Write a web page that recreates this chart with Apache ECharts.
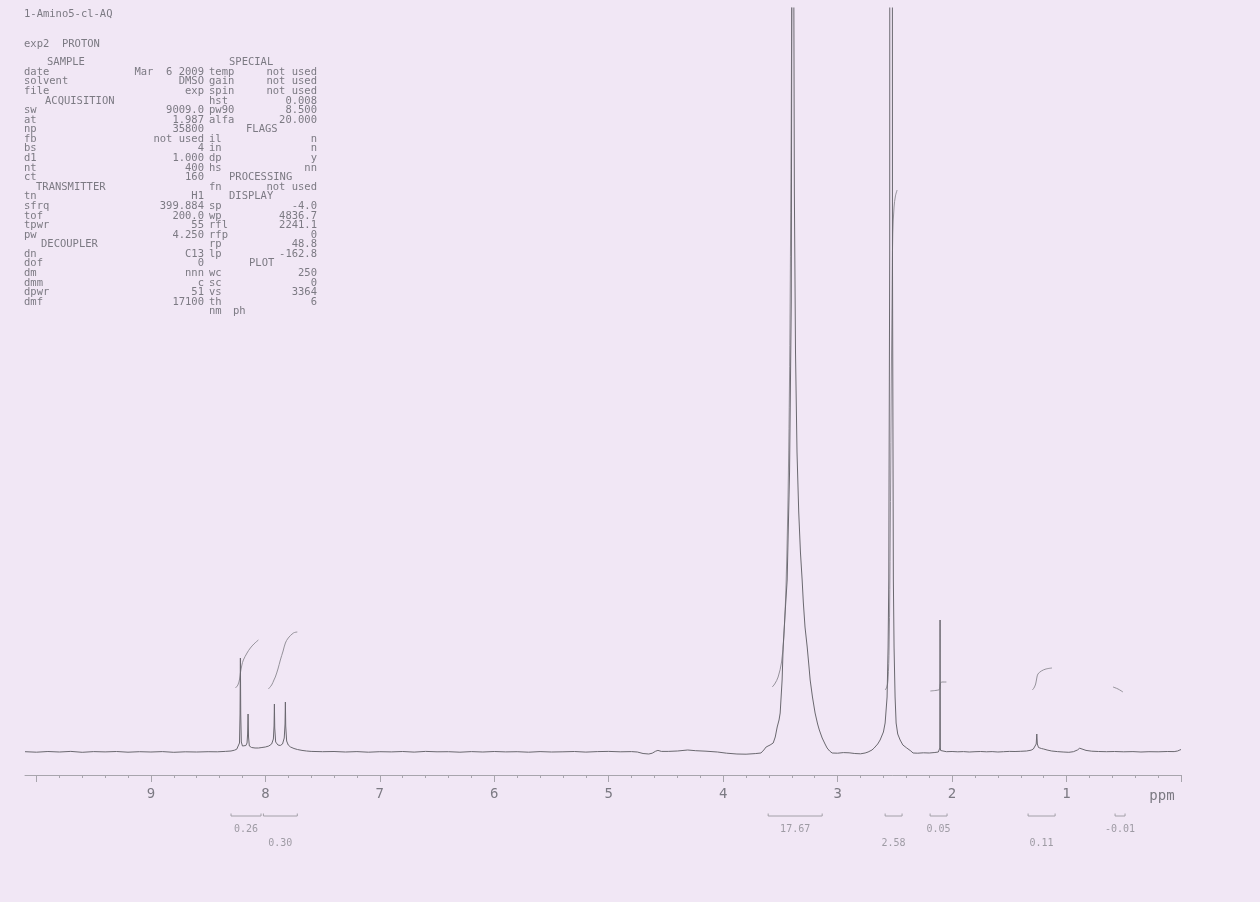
<!DOCTYPE html>
<html><head><meta charset="utf-8">
<script src="https://cdn.jsdelivr.net/npm/echarts@6.0.0/dist/echarts.min.js"></script>
<style>html,body{margin:0;padding:0;background:#f1e7f5;}#c{width:1260px;height:902px;}</style>
</head><body><div id="c"></div>
<script>
// ---- spectrum: [ppm, intensity] ----
const spectrum = [
[10.10,0.3],[10.00,-0.2],[9.90,0.5],[9.80,0.0],[9.70,0.6],[9.60,-0.3],[9.50,0.4],[9.40,0.1],[9.30,0.5],[9.20,-0.2],
[9.10,0.3],[9.00,0.0],[8.90,0.4],[8.80,-0.3],[8.70,0.2],[8.60,0.0],[8.50,0.3],[8.42,0.2],[8.35,0.6],[8.30,1.0],
[8.27,1.8],[8.25,2.8],[8.235,4.5],[8.226,9],[8.221,38],[8.218,94],[8.215,38],[8.210,10],[8.200,6],[8.185,5],
[8.170,6.5],[8.160,9],[8.155,18],[8.151,38],[8.147,15],[8.140,6],[8.120,4.5],[8.090,4],[8.060,4],[8.030,4.5],
[8.000,5],[7.970,6],[7.945,8],[7.930,13],[7.924,26],[7.921,48],[7.918,24],[7.910,10],[7.890,7],[7.870,6.5],
[7.850,8],[7.835,14],[7.828,28],[7.825,50],[7.822,26],[7.814,11],[7.800,7],[7.780,5],[7.750,3.5],[7.720,2.5],
[7.680,1.6],[7.640,1.0],[7.600,0.6],[7.50,0.3],[7.40,0.5],[7.30,0.0],[7.20,0.4],[7.10,-0.2],[7.00,0.3],[6.90,0.1],
[6.80,0.5],[6.70,-0.1],[6.60,0.6],[6.50,0.2],[6.40,0.3],[6.30,-0.2],[6.20,0.4],[6.10,0.0],[6.00,0.5],[5.90,0.1],
[5.80,0.3],[5.70,-0.2],[5.60,0.4],[5.50,0.0],[5.40,0.2],[5.30,0.5],[5.20,-0.1],[5.10,0.4],[5.00,0.6],[4.90,0.2],
[4.80,0.4],[4.75,0.0],[4.70,-1.5],[4.65,-2.0],[4.62,-1.2],[4.59,0.8],[4.57,1.6],[4.54,0.6],[4.48,0.6],[4.40,1.0],
[4.31,2.0],[4.24,1.3],[4.15,0.8],[4.05,0.0],[3.97,-1.2],[3.88,-2.0],[3.80,-2.2],[3.72,-1.6],[3.67,-1.0],[3.645,2.0],
[3.625,5.0],[3.61,4.5],[3.59,7.0],[3.575,8.0],[3.563,9],[3.545,15],[3.528,25],[3.512,32],[3.502,39],[3.485,72],
[3.476,105],[3.459,139],[3.441,172],[3.420,280],[3.405,450],[3.398,900],[3.392,6000],[3.386,900],[3.378,560],[3.368,400],
[3.355,300],[3.340,240],[3.325,200],[3.310,172],[3.300,150],[3.285,125],[3.266,105],[3.250,85],[3.240,72],[3.220,55],
[3.197,39],[3.175,28],[3.160,22],[3.135,14],[3.110,8],[3.092,4],[3.070,1],[3.048,-1],[3.00,-1.2],[2.95,-0.6],
[2.90,-0.8],[2.85,-1.5],[2.80,-1.8],[2.76,-1.0],[2.734,0],[2.700,2],[2.681,4],[2.650,8],[2.629,12],[2.600,20],
[2.585,29],[2.568,55],[2.559,105],[2.553,172],[2.545,500],[2.533,6000],[2.521,500],[2.513,172],[2.507,105],[2.498,55],
[2.489,29],[2.475,18],[2.454,12],[2.43,7],[2.396,4],[2.36,1],[2.341,-1],[2.30,-1.2],[2.25,-0.8],[2.20,-1.0],
[2.15,-0.5],[2.12,0],[2.110,1],[2.107,4],[2.105,132],[2.103,4],[2.100,1.5],[2.09,0.5],[2.05,0.3],[2.00,0.5],
[1.95,0.2],[1.90,0.4],[1.85,0.0],[1.80,0.3],[1.75,0.5],[1.70,0.2],[1.65,0.4],[1.60,0.0],[1.55,0.3],[1.50,0.6],
[1.45,0.5],[1.40,0.7],[1.35,1.0],[1.31,1.8],[1.29,3.0],[1.275,4.5],[1.265,8],[1.260,18],[1.255,8],[1.245,4.5],
[1.235,4],[1.22,3.5],[1.20,3.0],[1.17,2.0],[1.13,1.0],[1.08,0.4],[1.03,0.0],[0.98,-0.3],[0.94,0.3],[0.905,2.0],
[0.885,3.8],[0.865,3.0],[0.83,1.6],[0.78,0.8],[0.72,0.5],[0.65,0.3],[0.58,0.5],[0.50,0.2],[0.42,0.4],[0.35,0.0],
[0.28,0.3],[0.20,0.2],[0.12,0.5],[0.06,0.4],[0.03,1.0],[0.01,2.0],[0.00,2.5]
];

// ---- integrals ----
const integralRanges = [[8.300,8.038],[8.017,7.721],[3.607,3.135],[2.585,2.437],[2.192,2.044],[1.336,1.100],[0.576,0.489]];
const integralValues = ['0.26','0.30','17.67','2.58','0.05','0.11','-0.01'];
const integralTraces = [
 [[8.262,64],[8.24,67],[8.225,73],[8.218,79],[8.205,87],[8.192,92],[8.16,99],[8.131,104],[8.10,108],[8.061,112]],
 [[7.974,63],[7.945,67],[7.925,72],[7.913,75],[7.89,83],[7.869,92],[7.845,101],[7.825,109],[7.80,114],[7.755,119],[7.721,120]],
 [[3.572,65],[3.55,68],[3.52,75],[3.49,90],[3.47,115],[3.45,170],[3.43,280],[3.415,450],[3.40,800],[3.39,1600],[3.38,2600],[3.36,3200],[3.30,3300]],
 [[2.585,62],[2.57,65],[2.56,72],[2.55,105],[2.54,220],[2.533,340],[2.525,450],[2.518,519],[2.507,545],[2.495,556],[2.48,562]],
 [[2.19,61],[2.12,62],[2.108,63],[2.103,68],[2.09,70],[2.05,70]],
 [[1.30,62],[1.285,64],[1.27,68],[1.26,74],[1.25,78],[1.22,81],[1.18,83],[1.127,84]],
 [[0.594,65],[0.55,63],[0.507,60]]
];

// ---- axis ticks / labels ----
const axisLabelValues = [1,2,3,4,5,6,7,8,9];
const majorTickValues = [0,1,2,3,4,5,6,7,8,9,10];
const minorTickValues = [0,0.2,0.4,0.6,0.8,1,1.2,1.4,1.6,1.8,2,2.2,2.4,2.6,2.8,3,3.2,3.4,3.6,3.8,4,4.2,4.4,4.6,4.8,5,
 5.2,5.4,5.6,5.8,6,6.2,6.4,6.6,6.8,7,7.2,7.4,7.6,7.8,8,8.2,8.4,8.6,8.8,9,9.2,9.4,9.6,9.8,10];
const axisUnit = 'ppm';

// ---- parameter text block ----
const titleLines = ['1-Amino5-cl-AQ', 'exp2  PROTON'];
const paramsLeft = [
 ['#','SAMPLE'],['date','Mar  6 2009'],['solvent','DMSO'],['file','exp'],['#','ACQUISITION'],
 ['sw','9009.0'],['at','1.987'],['np','35800'],['fb','not used'],['bs','4'],['d1','1.000'],['nt','400'],['ct','160'],
 ['#','TRANSMITTER'],['tn','H1'],['sfrq','399.884'],['tof','200.0'],['tpwr','55'],['pw','4.250'],['#','DECOUPLER'],
 ['dn','C13'],['dof','0'],['dm','nnn'],['dmm','c'],['dpwr','51'],['dmf','17100']
];
const paramsRight = [
 ['#','SPECIAL'],['temp','not used'],['gain','not used'],['spin','not used'],['hst','0.008'],['pw90','8.500'],
 ['alfa','20.000'],['#','FLAGS'],['il','n'],['in','n'],['dp','y'],['hs','nn'],['#','PROCESSING'],['fn','not used'],
 ['#','DISPLAY'],['sp','-4.0'],['wp','4836.7'],['rfl','2241.1'],['rfp','0'],['rp','48.8'],['lp','-162.8'],['#','PLOT'],
 ['wc','250'],['sc','0'],['vs','3364'],['th','6'],['nm','ph']
];

// ---------------- layout / styling ----------------
const INK = '#6a686f', TXT = '#7c7a83', AX = '#a8a5ad';
const MONO = '"DejaVu Sans Mono", "Liberation Mono", monospace';
const headerX = {SAMPLE:47, ACQUISITION:45, TRANSMITTER:36, DECOUPLER:41, SPECIAL:229, FLAGS:246, PROCESSING:229, DISPLAY:229, PLOT:249};
const rowY0 = 62.5, rowStep = 9.58, FS = 10.5;
const graphics = [];
function txt(t, x, y, align, size){
  graphics.push({type:'text', x:x, y:y, silent:true,
    style:{text:t, fill:TXT, font: size + 'px ' + MONO, align:align, verticalAlign:'middle'}});
}
txt(titleLines[0], 24, 14, 'left', FS);
txt(titleLines[1], 24, 44, 'left', FS);
paramsLeft.forEach((r,i)=>{
  const y = rowY0 + i*rowStep;
  if(r[0]==='#'){ txt(r[1], headerX[r[1]], y, 'left', FS); }
  else { txt(r[0], 24, y, 'left', FS); txt(r[1], 204, y, 'right', FS); }
});
paramsRight.forEach((r,i)=>{
  const y = rowY0 + i*rowStep;
  if(r[0]==='#'){ txt(r[1], headerX[r[1]], y, 'left', FS); }
  else if(r[0]==='nm'){ txt(r[0], 209, y, 'left', FS); txt(r[1], 233, y, 'left', FS); }
  else { txt(r[0], 209, y, 'left', FS); txt(r[1], 317, y, 'right', FS); }
});
txt(axisUnit, 1162, 796, 'center', 14);

const series = [];
series.push({type:'line', name:'spectrum', xAxisIndex:0, yAxisIndex:0, data:spectrum, showSymbol:false,
  symbol:'none', clip:true, lineStyle:{color:INK, width:1}, z:3, animation:false});
integralTraces.forEach((tr,i)=>{
  series.push({type:'line', xAxisIndex:0, yAxisIndex:0, data:tr, showSymbol:false, symbol:'none',
    smooth:0.35, clip:true, lineStyle:{color:'#8a8890', width:0.9}, z:2, animation:false});
});
// integral brackets and values (second grid under the axis)
const BR = 16;
integralRanges.forEach((r,i)=>{
  series.push({type:'line', xAxisIndex:2, yAxisIndex:1, data:[[r[0],BR-2.5],[r[0],BR],[r[1],BR],[r[1],BR-2.5]],
    showSymbol:false, symbol:'none', lineStyle:{color:'#a3a0a8', width:1}, animation:false});
});
const labelData = integralRanges.map((r,i)=>[(r[0]+r[1])/2, i%2===0 ? 29 : 43, integralValues[i]]);
series.push({type:'scatter', xAxisIndex:2, yAxisIndex:1, data:labelData, symbolSize:1,
  itemStyle:{color:'rgba(0,0,0,0)'}, animation:false,
  label:{show:true, position:'inside', formatter:p=>p.data[2], color:'#8a8890', fontFamily:MONO, fontSize:10}});

const chart = echarts.init(document.getElementById('c'), null, {renderer:'canvas'});
chart.setOption({
  backgroundColor:'#f1e7f5',
  animation:false,
  grid:[{left:25, right:79, top:8, bottom:127, containLabel:false},
        {left:25, right:79, top:800, height:60, containLabel:false}],
  xAxis:[
    {gridIndex:0, type:'value', inverse:true, min:0, max:10.1, position:'bottom',
     axisLine:{show:true, onZero:false, lineStyle:{color:AX, width:1}},
     axisTick:{show:true, customValues:minorTickValues, length:3, lineStyle:{color:AX, width:1}},
     axisLabel:{show:true, customValues:axisLabelValues, margin:12, fontFamily:MONO, fontSize:14, color:TXT},
     splitLine:{show:false}},
    {gridIndex:0, type:'value', inverse:true, min:0, max:10.1, position:'bottom',
     axisLine:{show:false, onZero:false},
     axisTick:{show:true, customValues:majorTickValues, length:7, lineStyle:{color:AX, width:1}},
     axisLabel:{show:false}, splitLine:{show:false}},
    {gridIndex:1, type:'value', inverse:true, min:0, max:10.1, show:false}
  ],
  yAxis:[
    {gridIndex:0, type:'value', min:-23, max:744, show:false},
    {gridIndex:1, type:'value', min:0, max:60, inverse:true, show:false}
  ],
  graphic:graphics,
  series:series
});
</script></body></html>
